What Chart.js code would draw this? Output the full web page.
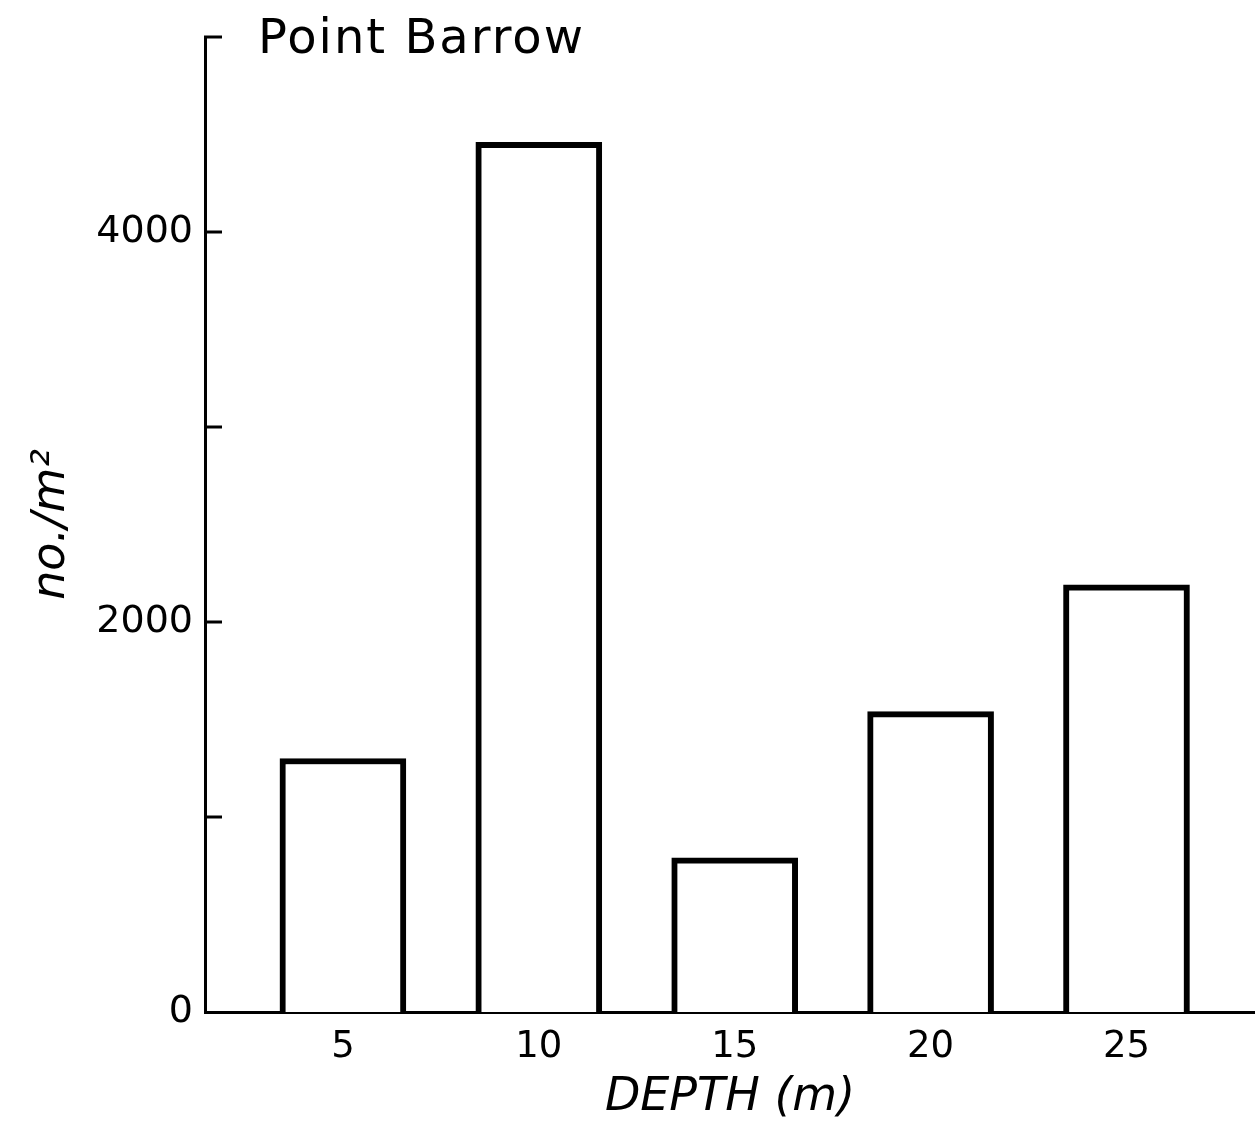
<!DOCTYPE html>
<html>
<head>
<meta charset="utf-8">
<script src="https://cdn.jsdelivr.net/npm/chart.js@4/dist/chart.umd.min.js"></script>
<style>
  html, body { margin: 0; padding: 0; background: #fff; }
  #wrap { width: 1255px; height: 1121px; position: relative; }
</style>
</head>
<body>
<div id="wrap"><canvas id="c" width="1255" height="1121"></canvas></div>
<script>
// ---- data ----
const chartTitle = "Point Barrow";
const depths = [5, 10, 15, 20, 25];
const densities = [1300, 4460, 790, 1540, 2190];
const yTickValues = [0, 1000, 2000, 3000, 4000, 5000];
const yLabelledTicks = [0, 2000, 4000];
const xTitle = "DEPTH (m)";
const yTitle = "no./m\u00B2";

const FONT = "'DejaVu Sans', sans-serif";

const innerTicks = {
  id: 'innerTicks',
  afterDatasetsDraw(chart) {
    const ctx = chart.ctx;
    const ys = chart.scales.y;
    ctx.save();
    ctx.strokeStyle = '#000';
    ctx.lineWidth = 3;
    ctx.lineCap = 'butt';
    yTickValues.forEach(v => {
      if (v === 0) return;
      const py = Math.round(ys.getPixelForValue(v));
      ctx.beginPath();
      ctx.moveTo(ys.right - 1, py);
      ctx.lineTo(ys.right + 17, py);
      ctx.stroke();
    });
    // chart title
    ctx.fillStyle = '#000';
    ctx.font = "48px " + FONT;
    try { ctx.letterSpacing = '2px'; } catch (e) {}
    ctx.textBaseline = 'alphabetic';
    ctx.textAlign = 'left';
    ctx.fillText(chartTitle, chart.chartArea.left + 53, 53);
    ctx.restore();
  }
};

new Chart(document.getElementById('c'), {
  type: 'bar',
  data: {
    datasets: [{
      data: depths.map((d, i) => ({ x: d, y: densities[i] })),
      backgroundColor: '#fff',
      borderColor: '#000',
      borderWidth: 6,
      barThickness: 126,
      borderSkipped: 'start'
    }]
  },
  options: {
    responsive: false,
    animation: false,
    events: [],
    layout: { padding: { top: 37, left: 0, right: 0, bottom: 0 } },
    plugins: { legend: { display: false }, tooltip: { enabled: false }, title: { display: false } },
    scales: {
      x: {
        type: 'linear',
        offset: false,
        min: 1.48,
        max: 28.28,
        afterBuildTicks: s => { s.ticks = depths.map(v => ({ value: v })); },
        afterFit: s => { s.height = 109; },
        grid: { display: false, drawTicks: false, offset: false },
        border: { display: true, color: '#000', width: 3 },
        ticks: {
          color: '#000',
          font: { family: FONT, size: 37 },
          padding: 13,
          maxRotation: 0,
          autoSkip: false,
          callback: v => String(v)
        },
        title: {
          display: true,
          text: xTitle,
          color: '#000',
          font: { family: FONT, size: 46, style: 'italic', lineHeight: 1.0 },
          padding: { top: 0, bottom: 0 }
        }
      },
      y: {
        min: 0,
        max: 5000,
        afterBuildTicks: s => { s.ticks = yTickValues.map(v => ({ value: v })); },
        afterFit: s => { s.width = 205; },
        grid: { display: false, drawTicks: false },
        border: { display: true, color: '#000', width: 3 },
        ticks: {
          color: '#000',
          font: { family: FONT, size: 38 },
          padding: 12,
          autoSkip: false,
          callback: v => yLabelledTicks.includes(v) ? String(v) : ''
        },
        title: {
          display: true,
          text: yTitle,
          color: '#000',
          font: { family: FONT, size: 46, style: 'italic' },
          padding: { top: 24, bottom: 0 }
        }
      }
    }
  },
  plugins: [innerTicks]
});
</script>
</body>
</html>
